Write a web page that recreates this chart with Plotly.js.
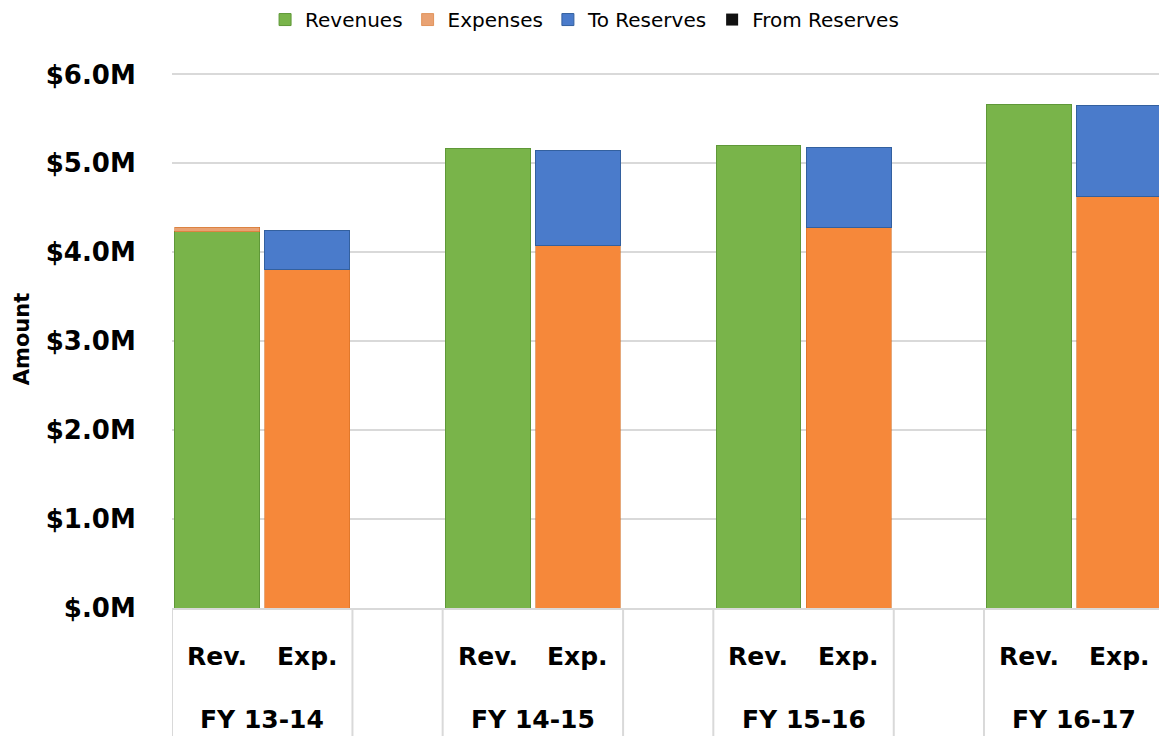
<!DOCTYPE html>
<html>
<head>
<meta charset="utf-8">
<script src="https://cdn.plot.ly/plotly-3.0.1.min.js"></script>
<style>
html,body{margin:0;padding:0;background:#fff;}
#chart{width:1159px;height:736px;}
</style>
</head>
<body>
<div id="chart"></div>
<script>
// ---- data ($ millions) ----
const years = ['FY 13-14', 'FY 14-15', 'FY 15-16', 'FY 16-17'];
const sides = ['Rev.', 'Exp.'];
const revenues = [4.23, 5.17, 5.20, 5.66];        // Rev. column
const revColumnExpenses = [0.05, null, null, null]; // thin sliver on top of Rev. column
const expenses = [3.81, 4.08, 4.28, 4.63];        // Exp. column
const toReserves = [0.43, 1.07, 0.90, 1.02];      // Exp. column, on top of expenses
const fromReserves = [null, null, null, null];
const yTicks = [0, 1, 2, 3, 4, 5, 6];

// ---- slot layout: Rev., Exp., blank per year ----
const revX = years.map((_, i) => 3 * i);
const expX = years.map((_, i) => 3 * i + 1);

const C = {
  green: '#79B44A', greenLine: '#5F9838',
  orange: '#F6883A', orangeLine: '#D36E22',
  tan: '#E9A273',
  blue: '#4A7BCB', blueLine: '#33609F',
  black: '#111111'
};
const FONT = 'DejaVu Sans, sans-serif';
const BW = 0.94;

const traces = [
  {type: 'bar', name: 'Revenues', x: revX, y: revenues, width: BW,
   marker: {color: C.green, line: {color: C.greenLine, width: 1}}},
  {type: 'bar', name: 'Expenses', x: revX.concat(expX), y: revColumnExpenses.concat(expenses), width: BW,
   marker: {color: revColumnExpenses.map(() => C.tan).concat(expenses.map(() => C.orange)),
            line: {color: C.orangeLine, width: 0.6}}},
  {type: 'bar', name: 'To Reserves', x: expX, y: toReserves, width: BW,
   marker: {color: C.blue, line: {color: C.blueLine, width: 1}}},
  {type: 'bar', name: 'From Reserves', x: expX, y: fromReserves, width: BW,
   marker: {color: C.black, line: {color: C.black, width: 0}}}
];

// table lines under the axis
const shapes = [];
years.forEach((_, i) => {
  [3 * i - 0.5, 3 * i + 1.5].forEach(xv => {
    shapes.push({type: 'line', xref: 'x', yref: 'paper', x0: xv, x1: xv, y0: 0, y1: -0.26,
                 line: {color: '#D9D9D9', width: 2}});
  });
});

const annotations = [];
years.forEach((yr, i) => {
  sides.forEach((s, j) => {
    annotations.push({x: 3 * i + j, xref: 'x', y: -0.090, yref: 'paper', yanchor: 'middle',
                      text: s, showarrow: false,
                      font: {family: FONT, size: 25, color: '#000', weight: 'bold'}});
  });
  annotations.push({x: 3 * i + 0.5, xref: 'x', y: -0.208, yref: 'paper', yanchor: 'middle',
                    text: yr, showarrow: false,
                    font: {family: FONT, size: 25, color: '#000', weight: 'bold'}});
});

const layout = {
  width: 1159, height: 736,
  margin: {l: 172, r: 0, t: 68, b: 128},
  paper_bgcolor: '#fff', plot_bgcolor: '#fff',
  barmode: 'stack',
  showlegend: true,
  legend: {orientation: 'h', x: 0.418, xanchor: 'center', y: 1.13, yanchor: 'top',
           font: {family: FONT, size: 20, color: '#000'}, traceorder: 'normal'},
  xaxis: {range: [-0.5, 10.44], showgrid: false, zeroline: false, showticklabels: false,
          showline: true, linecolor: '#D9D9D9', linewidth: 2, ticks: '', fixedrange: true},
  yaxis: {range: [0, 6.05], tickvals: yTicks,
          ticktext: yTicks.map(v => v === 0 ? '$.0M' : '$' + v.toFixed(1) + 'M'),
          showgrid: true, gridcolor: '#D9D9D9', gridwidth: 2, zeroline: false,
          ticks: 'outside', ticklen: 30, tickcolor: 'rgba(0,0,0,0)',
          tickfont: {family: FONT, size: 26, color: '#000', weight: 'bold'},
          title: {text: 'Amount', standoff: 10, font: {family: FONT, size: 21, color: '#000', weight: 'bold'}},
          automargin: false},
  shapes: shapes,
  annotations: annotations
};

Plotly.newPlot('chart', traces, layout, {displayModeBar: false, staticPlot: true});
</script>
</body>
</html>
